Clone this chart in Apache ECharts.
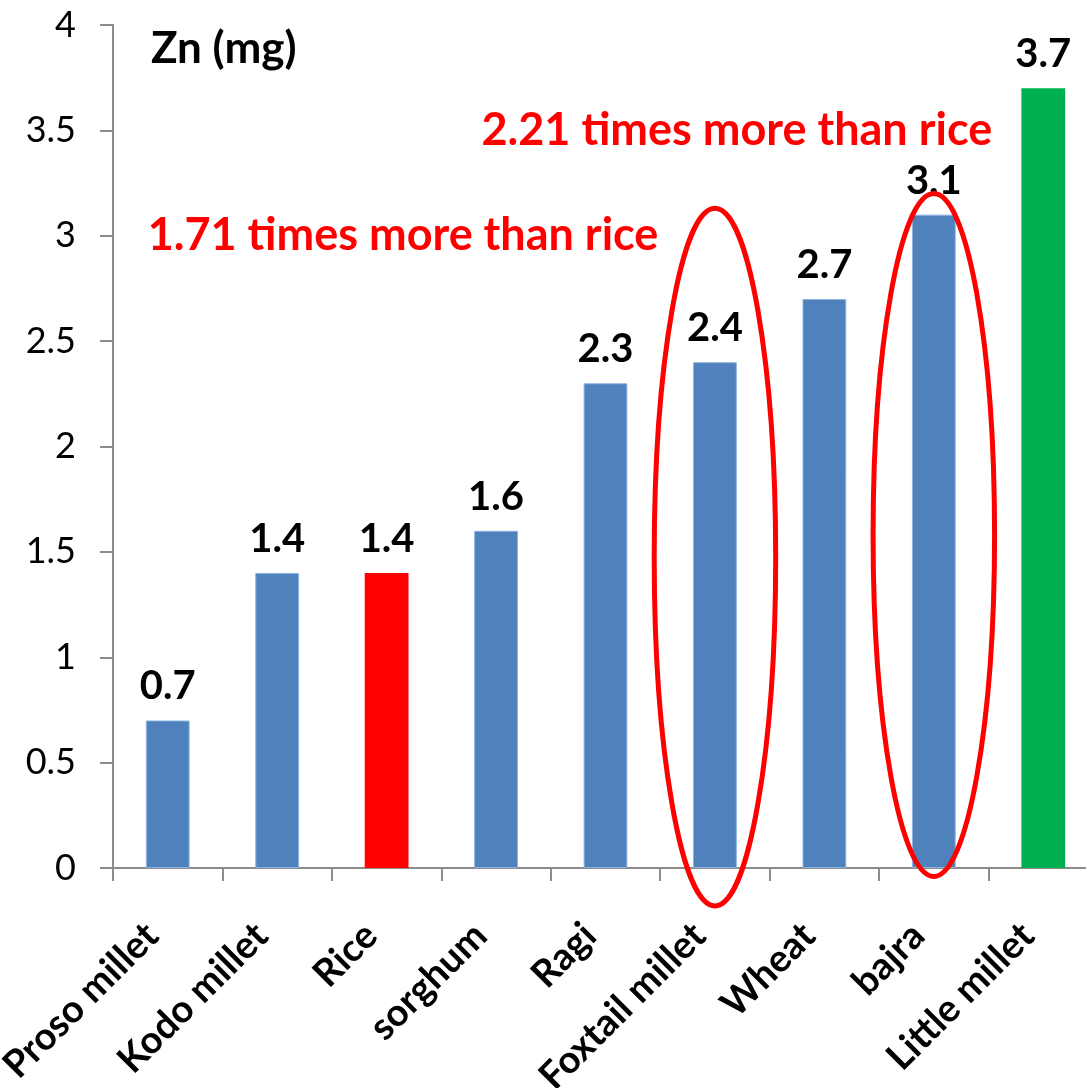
<!DOCTYPE html>
<html>
<head>
<meta charset="utf-8">
<script src="https://cdn.jsdelivr.net/npm/echarts@6/dist/echarts.min.js"></script>
<style>
  html, body { margin: 0; padding: 0; background: #fff; overflow: hidden; }
  /* drawing surface is slightly wider than the window so the last category band runs past the edge */
  #chart { width: 1100px; height: 1088px; }
</style>
</head>
<body>
<div id="chart"></div>
<script>
// Zinc content per 100 g of grain
const categories = ['Proso millet', 'Kodo millet', 'Rice', 'sorghum', 'Ragi', 'Foxtail millet', 'Wheat', 'bajra', 'Little millet'];
const zincValues = [0.7, 1.4, 1.4, 1.6, 2.3, 2.4, 2.7, 3.1, 3.7];
const yTicks = [0, 0.5, 1, 1.5, 2, 2.5, 3, 3.5, 4];

// Highlighted grains
const riceName = 'Rice';
const topName = 'Little millet';

// Comparison notes and the ellipses that circle the compared grains (value ranges on the y axis)
const notes = [
  { text: '2.21 times more than rice', value: 3.5 },
  { text: '1.71 times more than rice', value: 3.0 }
];
const circledGrains = [
  { name: 'Foxtail millet', from: -0.18, to: 3.13 },
  { name: 'bajra', from: -0.04, to: 3.2 }
];

const FONT = 'Lato, "Open Sans", sans-serif';
const BLUE = '#4f81bd';
const AXIS = '#8c8c8c';

const chart = echarts.init(document.getElementById('chart'), null, { renderer: 'canvas' });

const barData = categories.map((name, i) => {
  let color = BLUE, border = '#8db3e2', bw = 1;
  if (name === riceName) { color = '#ff0000'; bw = 0; }
  if (name === topName) { color = '#00b050'; bw = 0; }
  return { value: zincValues[i], itemStyle: { color, borderColor: border, borderWidth: bw } };
});

chart.setOption({
  animation: false,
  backgroundColor: '#fff',
  title: {
    text: 'Zn (mg)',
    left: 146,
    top: 22,
    textStyle: { fontFamily: FONT, fontWeight: 'bold', fontSize: 44, color: '#000' }
  },
  grid: { left: 113, right: 2, top: 25, bottom: 220, containLabel: false, outerBoundsMode: 'none' },
  xAxis: {
    type: 'category',
    data: categories,
    axisLine: { lineStyle: { color: AXIS, width: 2 } },
    axisTick: { show: true, length: 13, lineStyle: { color: AXIS, width: 2 } },
    axisLabel: {
      rotate: 45,
      interval: 0,
      margin: 46,
      padding: [0, 22, 0, 0],
      fontFamily: FONT,
      fontWeight: 'bold',
      fontSize: 38,
      color: '#000'
    }
  },
  yAxis: {
    type: 'value',
    min: yTicks[0],
    max: yTicks[yTicks.length - 1],
    interval: 0.5,
    splitLine: { show: false },
    axisLine: { show: true, lineStyle: { color: AXIS, width: 2 } },
    axisTick: { show: true, length: 13, lineStyle: { color: AXIS, width: 2 } },
    axisLabel: {
      margin: 37,
      fontFamily: FONT,
      fontSize: 36,
      color: '#000'
    }
  },
  series: [{
    type: 'bar',
    data: barData,
    barWidth: '40%',
    label: {
      show: true,
      position: 'top',
      distance: 14,
      fontFamily: FONT,
      fontWeight: 'bold',
      fontSize: 40,
      color: '#000'
    }
  }]
});

// Annotations placed through the chart's own scales
function drawAnnotations() {
  const graphics = [];
  const band = chart.convertToPixel({ xAxisIndex: 0 }, categories[1]) - chart.convertToPixel({ xAxisIndex: 0 }, categories[0]);
  circledGrains.forEach(g => {
    const cx = chart.convertToPixel({ xAxisIndex: 0 }, g.name);
    const yTop = chart.convertToPixel({ yAxisIndex: 0 }, g.to);
    const yBot = chart.convertToPixel({ yAxisIndex: 0 }, g.from);
    graphics.push({
      type: 'ellipse',
      shape: { cx: cx, cy: (yTop + yBot) / 2, rx: band * 0.555, ry: (yBot - yTop) / 2 },
      style: { fill: 'none', stroke: '#ff0000', lineWidth: 5 },
      z: 10
    });
  });
  const xFox = chart.convertToPixel({ xAxisIndex: 0 }, 'Foxtail millet');
  const xRice = chart.convertToPixel({ xAxisIndex: 0 }, 'Rice');
  const anchors = [xFox + band * 0.2, xRice + band * 0.15];
  notes.forEach((n, i) => {
    graphics.push({
      type: 'text',
      x: anchors[i],
      y: chart.convertToPixel({ yAxisIndex: 0 }, n.value),
      style: {
        text: n.text,
        fill: '#ff0000',
        font: 'bold 45px ' + FONT,
        textAlign: 'center',
        textVerticalAlign: 'middle'
      },
      z: 11
    });
  });
  chart.setOption({ graphic: graphics });
}
drawAnnotations();
</script>
</body>
</html>
